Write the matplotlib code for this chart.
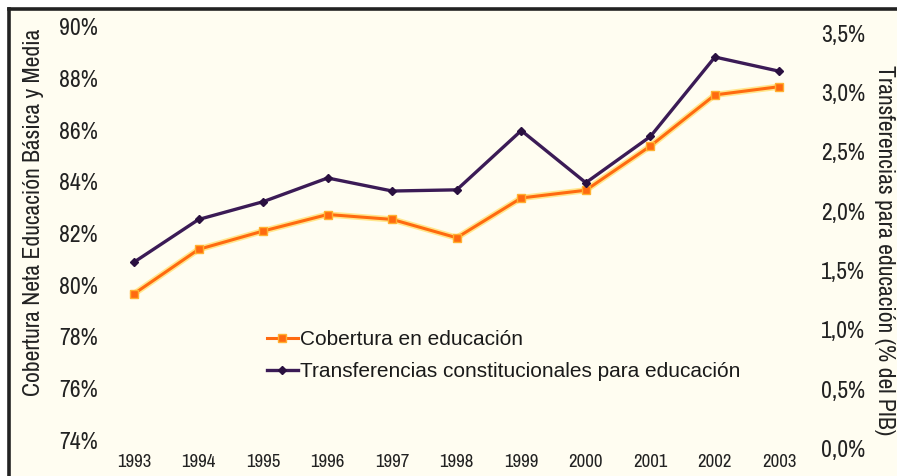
import matplotlib
matplotlib.use('Agg')
import matplotlib.pyplot as plt
from matplotlib.patches import Rectangle
from matplotlib.lines import Line2D

years = [1993, 1994, 1995, 1996, 1997, 1998, 1999, 2000, 2001, 2002, 2003]
cobertura = [79.66, 81.38, 82.09, 82.73, 82.54, 81.83, 83.37, 83.67, 85.38, 87.36, 87.68]
transferencias = [1.57, 1.93, 2.08, 2.28, 2.17, 2.18, 2.68, 2.24, 2.63, 3.30, 3.18]

left_ticks = [74, 76, 78, 80, 82, 84, 86, 88, 90]
right_ticks = [0.0, 0.5, 1.0, 1.5, 2.0, 2.5, 3.0, 3.5]

narrow = ['Archivo Narrow', 'Liberation Sans Narrow', 'DejaVu Sans']
regular = ['Liberation Sans', 'DejaVu Sans']

W, H = 897, 476
fig = plt.figure(figsize=(W / 100, H / 100), dpi=100)
fig.patch.set_facecolor('white')

# cream paper inside the frame
fig.add_artist(Rectangle((9 / W, 0), 1, 1 - 9 / H, transform=fig.transFigure,
                         facecolor='#fffdf1', edgecolor='none', zorder=-5))
fig.add_artist(Line2D([8.5 / W, 1], [1 - 8.5 / H, 1 - 8.5 / H], color='#222222', lw=2.6, zorder=-4))
fig.add_artist(Line2D([8.5 / W, 8.5 / W], [0, 1 - 8.5 / H], color='#222222', lw=2.6, zorder=-4))

# axes area in pixels
x0, x1, y0, y1 = 110, 800, 26.7, 448.3
ax = fig.add_axes([x0 / W, 1 - y1 / H, (x1 - x0) / W, (y1 - y0) / H])
ax.patch.set_alpha(0)
ax2 = ax.twinx()

ax.set_xlim(1992.628, 2003.318)
ax.set_ylim(73.68, 90)
ax2.set_ylim(0, 3.556)

for a in (ax, ax2):
    for s in a.spines.values():
        s.set_visible(False)
    a.tick_params(length=0)

ax.set_xticks(years)
ax.set_xticklabels([str(y) for y in years], family=narrow, fontsize=13.5,
                   fontweight='bold', color='#222222')
ax.tick_params(axis='x', pad=4)

ax.set_yticks(left_ticks)
ax.set_yticklabels([f'{t}%' for t in left_ticks], family=narrow, fontsize=17, color='#222222')
ax.tick_params(axis='y', pad=9)

ax2.set_yticks(right_ticks)
ax2.set_yticklabels([f'{t:.1f}%'.replace('.', ',') for t in right_ticks],
                    family=narrow, fontsize=17, color='#222222')
ax2.tick_params(axis='y', pad=15)

# orange series (left axis), drawn with a yellow halo
ax.plot(years, cobertura, color='#ffd84a', lw=4.5, alpha=0.6, zorder=2)
l1, = ax.plot(years, cobertura, color='#ff6a10', lw=2.2, marker='s', ms=6,
              mfc='#ff6a10', mec='#ffb030', mew=1, zorder=3, label='Cobertura en educación')
l2, = ax2.plot(years, transferencias, color='#3b1b56', lw=2.4, marker='D', ms=4.5,
               mfc='#2a1040', mec='#2a1040', zorder=3,
               label='Transferencias constitucionales para educación')

leg = ax.legend([l1, l2], [l1.get_label(), l2.get_label()],
                loc='upper left', bbox_to_anchor=((259 - x0) / (x1 - x0), 1 - (322 - y0) / (y1 - y0)),
                frameon=False, handlelength=1.45, handletextpad=0.12, labelspacing=0.62,
                borderaxespad=0, prop={'family': regular, 'size': 15})
for t in leg.get_texts():
    t.set_color('#1a1a1a')

fig.text(34 / W, 1 - 212 / H, 'Cobertura Neta Educación Básica y Media', rotation=90,
         ha='center', va='center', family=narrow, fontsize=17, color='#222222')
fig.text(884 / W, 1 - 250 / H, 'Transferencias para educación (% del PIB)', rotation=270,
         ha='center', va='center', family=narrow, fontsize=17, color='#222222')

fig.savefig('out.png', dpi=100, facecolor=fig.get_facecolor())
